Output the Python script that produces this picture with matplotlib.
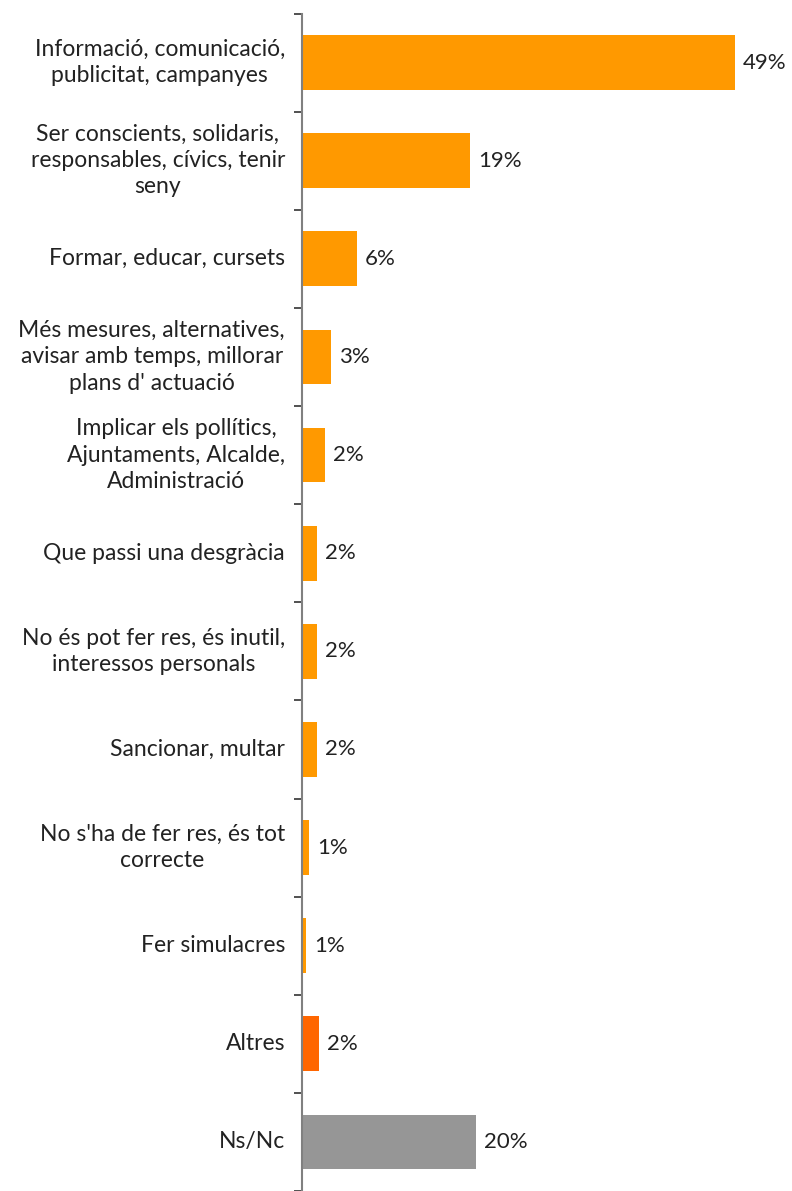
import numpy as np
import matplotlib
matplotlib.use("Agg")
import matplotlib.pyplot as plt

categories = [
    "Informació, comunicació,\npublicitat, campanyes",
    "Ser conscients, solidaris,\nresponsables, cívics, tenir\nseny",
    "Formar, educar, cursets",
    "Més mesures, alternatives,\navisar amb temps, millorar\nplans d' actuació",
    "Implicar els pollítics,\nAjuntaments, Alcalde,\nAdministració",
    "Que passi una desgràcia",
    "No és pot fer res, és inutil,\ninteressos personals",
    "Sancionar, multar",
    "No s'ha de fer res, és tot\ncorrecte",
    "Fer simulacres",
    "Altres",
    "Ns/Nc",
]
values = [49.0, 19.0, 6.2, 3.3, 2.6, 1.7, 1.7, 1.7, 0.8, 0.5, 1.9, 19.7]
value_labels = ["49%", "19%", "6%", "3%", "2%", "2%", "2%", "2%", "1%", "1%", "2%", "20%"]
colors = ["#FF9900"] * 10 + ["#FF6600", "#969696"]

plt.rcParams["font.family"] = ["Lato", "DejaVu Sans"]

W, H = 792, 1191
fig = plt.figure(figsize=(W / 100, H / 100), dpi=100)

# axes placed in pixel terms: y axis line at x=302, top at y=13.5
x0 = 302
top = 13.5
pitch = 98.6
ax = fig.add_axes([x0 / W, 0, (W - x0) / W, (H - top) / H])

y = np.arange(len(categories))
ax.barh(y, values, height=0.557, color=colors)

px_per_unit = 8.84
ax.set_xlim(0, (W - x0) / px_per_unit)
ax.set_ylim(-0.5 + (H - top) / pitch, -0.5)

for yi, v, lab in zip(y, values, value_labels):
    ax.text(v + 8 / px_per_unit, yi, lab, va="center", ha="left",
            fontsize=16, color="#222222")

# category labels
for yi, cat in zip(y, categories):
    ax.text(-17 / px_per_unit, yi, cat, va="center", ha="right",
            multialignment="center", fontsize=16.5, color="#222222",
            linespacing=1.3)

for s in ["top", "right", "bottom"]:
    ax.spines[s].set_visible(False)
ax.spines["left"].set_color("#808080")
ax.spines["left"].set_linewidth(1.5)

ax.set_xticks([])
ax.set_yticks(np.arange(-0.5, len(categories) + 0.5, 1.0))
ax.set_yticklabels([])
ax.tick_params(axis="y", length=6, width=1.2, color="#333333", direction="out")

fig.savefig("out.png", dpi=100)
